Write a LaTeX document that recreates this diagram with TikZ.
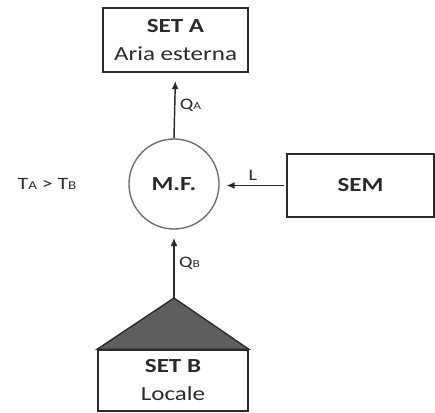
\documentclass[tikz,border=0pt]{standalone}
\usepackage{fontspec}
\setmainfont{Carlito}[FakeStretch=1.25]
\usepackage{tikz}
\usetikzlibrary{positioning,arrows.meta,calc}
\definecolor{ink}{HTML}{2A2A2A}
\definecolor{roof}{HTML}{5E5E5E}
\tikzset{
box/.style={
draw=ink,
line width=1.2pt,
minimum width=108.75pt,
minimum height=48pt,
align=center,
text=ink,
font=\fontsize{15}{21}\selectfont
},
hub/.style={
circle,
draw=ink!70,
line width=1pt,
minimum size=67.5pt,
inner sep=0pt,
text=ink,
font=\fontsize{15}{18}\selectfont\bfseries
},
arrow/.style={
-{Latex[length=2.2mm,width=1.8mm]},
draw=ink,
line width=1.1pt
},
lbl/.style={
text=ink,
font=\fontsize{12}{14}\selectfont
}
}

\begin{document}
\begin{tikzpicture}[x=0.75pt,y=-0.75pt]
\useasboundingbox (0,0) rectangle (435,412);
\node[hub](mf) at (174,184){M.F.};
\node[box](a) at (175.5,40){\textbf{SET A}\\Aria esterna};
\node[box,minimum width=110.25pt,minimum height=47.25pt,font=\fontsize{15}{18}\selectfont\bfseries](sem) at (360.5,185.5){SEM};
\node[box,minimum width=112.5pt,minimum height=45.75pt](b) at (173,380.5){\textbf{SET B}\\Locale};
\node[lbl,font=\fontsize{13}{15}\selectfont](t) at (47,184){T{\fontsize{9}{9}\selectfont A} > T{\fontsize{9}{9}\selectfont B}};
\coordinate (apex) at (174,298);
\draw[draw=ink,line width=1pt,fill=roof](b.north west)--(apex)--(b.north east)--cycle;

\draw[arrow,shorten >=6pt](mf.north)--(a.south) node[lbl,midway,right]{Q{\fontsize{8}{8}\selectfont A}};
\draw[arrow,shorten >=5pt,shorten <=1.5pt](sem.west)--(sem.west -| mf.east) node[lbl,midway,above]{L};
\draw[arrow,shorten >=6pt](apex)--(mf.south) node[lbl,midway,right]{Q{\fontsize{8}{8}\selectfont B}};
\end{tikzpicture}
\end{document}
